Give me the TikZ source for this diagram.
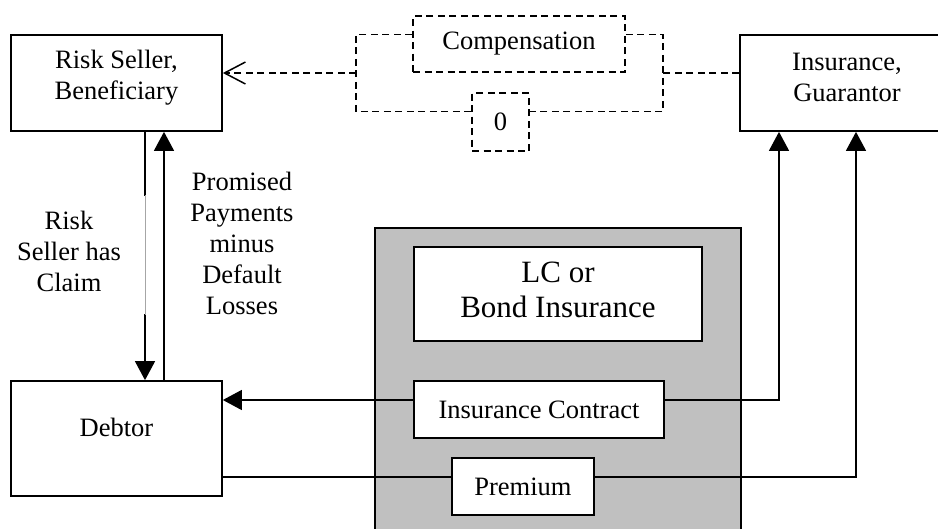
\documentclass[tikz,border=0pt]{standalone}
\usepackage{fontspec}
\setmainfont{Liberation Serif}
\usetikzlibrary{arrows.meta}
\definecolor{panel}{RGB}{192,192,192}
\begin{document}
\begin{tikzpicture}[x=1pt,y=-1pt,
  box/.style={draw, line width=1.7pt, fill=white, inner sep=0pt},
  dbox/.style={box, line width=1.8pt, dash pattern=on 7pt off 4.5pt},
  txt/.style={align=center, font=\fontsize{26.5}{31}\selectfont, inner sep=0pt},
  bigtxt/.style={align=center, font=\fontsize{31}{35}\selectfont, inner sep=0pt},
  link/.style={line width=1.4pt},
  tip/.style={link, -{Triangle[length=19pt,width=20pt]}},
  dline/.style={line width=1.8pt, dash pattern=on 7pt off 4.5pt},
]
\clip (0,0) rectangle (938,528);

% shaded panel holding the insurance instruments
\node[box, fill=panel, minimum width=366pt, minimum height=344pt] (panel) at (558,400) {};
\node[box, minimum width=288pt, minimum height=94pt] (lc) at (558,294) {};
\node[bigtxt] (lcT) at (558,290) {LC or\\Bond Insurance};
\node[box, txt, minimum width=250pt, minimum height=57pt] (ic) at (539,409.5) {Insurance Contract};
\node[box, txt, minimum width=142pt, minimum height=57pt] (pr) at (523,486.5) {Premium};

% parties
\node[box, minimum width=211pt, minimum height=96pt] (rs) at (116.5,83) {};
\node[txt] (rsT) at (116.5,77.5) {Risk Seller,\\Beneficiary};
\node[box, minimum width=214pt, minimum height=96pt] (ins) at (847,83) {};
\node[txt] (insT) at (847,77) {Insurance,\\Guarantor};
\node[box, minimum width=211pt, minimum height=115pt] (db) at (116.5,438.5) {};
\node[txt] (dbT) at (116.5,427) {Debtor};

% payout alternatives
\node[dbox, txt, minimum width=212pt, minimum height=56pt] (comp) at (519,44) {Compensation};
\node[dbox, txt, minimum width=57pt, minimum height=58pt] (zero) at (500.5,122) {0};

% labels on the claim / payment arrows
\node[txt] (claimT) at (69,251) {Risk\\Seller has\\Claim};
\node[txt] (payT) at (242,243) {Promised\\Payments\\minus\\Default\\Losses};

% dashed branching between guarantor and beneficiary
\coordinate (jrt) at (663,34.5);
\coordinate (jrm) at (663,73);
\coordinate (jrb) at (663,111.5);
\coordinate (jlt) at (356,34.5);
\coordinate (jlm) at (356,73);
\coordinate (jlb) at (356,111.5);
\draw[dline] (ins.west |- jrm) -- (jrm);
\draw[dline] (comp.east |- jrt) -- (jrt) -- (jrb) -- (zero.east |- jrb);
\draw[dline] (comp.west |- jlt) -- (jlt) -- (jlb) -- (zero.west |- jlb);
\draw[dline, -{Straight Barb[length=21pt,width=22pt,line width=1.5pt]}] (jlm) -- (rs.east |- jlm);

% claim and payments between beneficiary and debtor
\draw[tip] ([xshift=28.5pt]rs.south) -- ([xshift=28.5pt]rs.south |- db.north);
\draw[white, line width=1.7pt] (145,196) -- (145,314);
\draw[black!35, line width=0.6pt] (145,195) -- (145,315);
\draw[tip] ([xshift=47.5pt]rs.south |- db.north) -- ([xshift=47.5pt]rs.south);

% contract and premium flows
\draw[tip] ([yshift=9.5pt]ic.west) -- ([yshift=9.5pt]ic.west -| db.east);
\draw[tip] ([yshift=9.5pt]ic.east) -| ([xshift=-68pt]ins.south);
\draw[link] ([yshift=9.5pt]pr.west -| db.east) -- ([yshift=9.5pt]pr.west);
\draw[tip] ([yshift=9.5pt]pr.east) -| ([xshift=9pt]ins.south);
\end{tikzpicture}
\end{document}
